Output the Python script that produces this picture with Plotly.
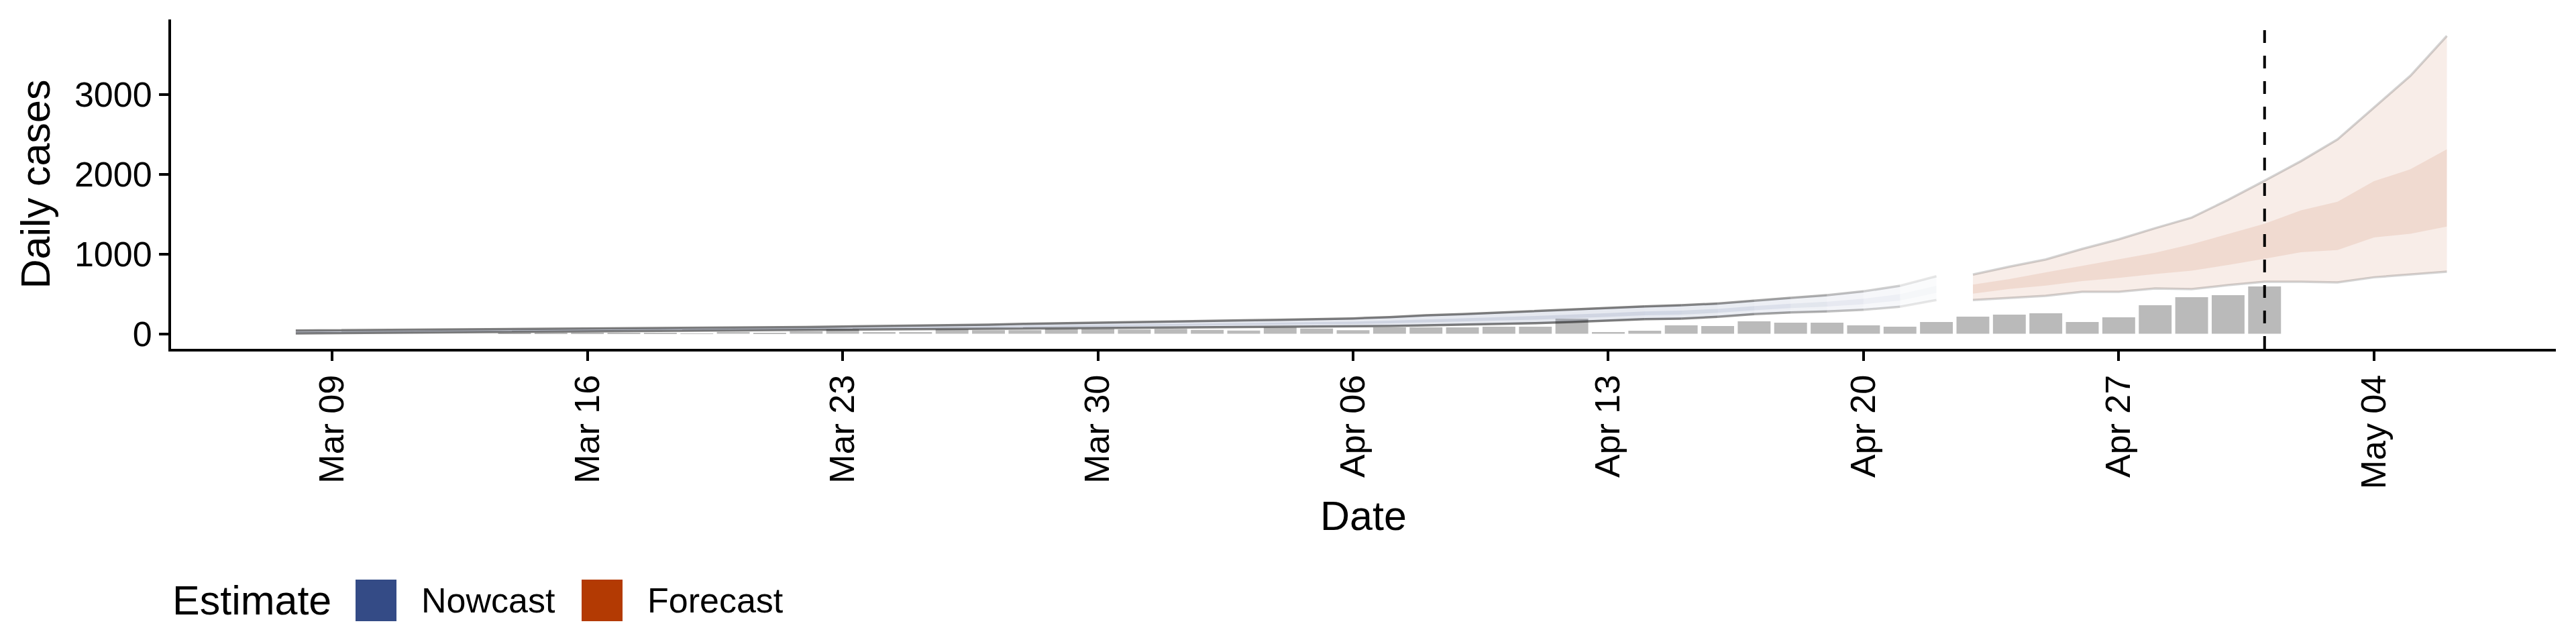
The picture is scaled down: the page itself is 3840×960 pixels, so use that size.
import pandas as pd
import plotly.graph_objects as go

# ---------------- data ----------------
case_dates = pd.date_range("2020-03-08", "2020-05-01", freq="D")
reported_cases = [0, 0, 0, 0, 0, 0,
                  7, 5, 15, 10, 13, 4, 24, 13, 32, 55,
                  21, 21, 55, 44, 44, 60, 60, 52, 60, 49,
                  40, 77, 66, 44, 80, 80, 80, 88, 88, 189,
                  21, 38, 105, 97, 155, 139, 139, 105, 88, 147,
                  214, 239, 256, 147, 206, 357, 458, 483, 592]

nowcast_dates = pd.date_range("2020-03-08", "2020-04-22", freq="D")
nowcast_upper_90 = [40, 43, 45, 48, 50, 53, 55, 58, 60, 63,
                    67, 71, 76, 80, 85, 90, 95, 100, 105, 114,
                    124, 132, 141, 150, 158, 164, 168, 174, 182, 192,
                    209, 231, 245, 265, 281, 298, 321, 343, 357, 379,
                    413, 449, 483, 531, 601, 721]
nowcast_upper_50 = [26, 29, 31, 34, 37, 40, 42, 45, 48, 51,
                    54, 58, 62, 66, 70, 74, 78, 82, 87, 93,
                    100, 106, 112, 119, 126, 131, 135, 140, 145, 152,
                    164, 181, 192, 209, 222, 238, 259, 279, 290, 312,
                    346, 376, 401, 439, 496, 601]
nowcast_lower_50 = [16, 19, 21, 24, 27, 30, 33, 36, 38, 41,
                    45, 48, 52, 55, 58, 62, 66, 69, 73, 77,
                    81, 86, 91, 96, 101, 106, 111, 114, 118, 121,
                    131, 143, 153, 166, 177, 192, 213, 231, 239, 262,
                    295, 322, 340, 370, 417, 512]
nowcast_lower_90 = [5, 8, 11, 14, 17, 20, 23, 26, 29, 32,
                    35, 38, 41, 44, 47, 50, 53, 56, 59, 61,
                    63, 66, 69, 73, 77, 81, 86, 88, 90, 91,
                    97, 105, 113, 124, 133, 147, 166, 183, 189, 212,
                    245, 267, 279, 301, 338, 422]

forecast_dates = pd.date_range("2020-04-23", "2020-05-06", freq="D")
forecast_upper_90 = [741, 840, 931, 1063, 1183, 1323, 1455, 1678, 1917, 2163, 2434, 2835, 3232, 3731]
forecast_upper_50 = [615, 685, 769, 853, 931, 1015, 1121, 1253, 1379, 1547, 1653, 1911, 2060, 2312]
forecast_lower_50 = [502, 561, 603, 659, 699, 749, 791, 861, 939, 1021, 1048, 1205, 1253, 1342]
forecast_lower_90 = [422, 449, 475, 525, 525, 567, 559, 609, 651, 651, 643, 707, 741, 777]

estimate_date = "2020-05-01"
tick_dates = ["2020-03-09", "2020-03-16", "2020-03-23", "2020-03-30", "2020-04-06",
              "2020-04-13", "2020-04-20", "2020-04-27", "2020-05-04"]
tick_labels = ["Mar 09", "Mar 16", "Mar 23", "Mar 30", "Apr 06",
               "Apr 13", "Apr 20", "Apr 27", "May 04"]
y_ticks = [0, 1000, 2000, 3000]
legend_labels = ["Nowcast", "Forecast"]

# ---------------- styles ----------------
FONT = "Liberation Sans, Arial, Helvetica, sans-serif"
NOW_RGB = (52, 75, 134)
FC_RGB = (179, 58, 3)
NOW_HEX = "#344b86"
FC_HEX = "#b33a03"
BAR_COL = "#bababa"
fade_start = 37          # index in nowcast arrays where fading begins
fade_scale = [0.98, 0.93, 0.84, 0.72, 0.63, 0.49, 0.37, 0.19]

W, H = 3840, 960
L, R, T, B = 255, 30, 29, 440


def px_x(px):
    return (px - L) / (W - L - R)


def px_y(py):
    return (H - B - py) / (H - T - B)


def rgba(rgb, a):
    return "rgba(%d,%d,%d,%.3f)" % (rgb[0], rgb[1], rgb[2], a)


fig = go.Figure()

fig.add_trace(go.Bar(x=case_dates, y=reported_cases, marker=dict(color=BAR_COL, line=dict(width=0)),
                     width=0.9 * 86400000, showlegend=False, hoverinfo="skip"))


def ribbon(xs, lo, hi, color):
    xs = list(xs)
    fig.add_trace(go.Scatter(x=xs + xs[::-1], y=list(hi) + list(lo)[::-1], fill="toself",
                             fillcolor=color, line=dict(width=0), mode="lines",
                             showlegend=False, hoverinfo="skip"))


def edge(xs, ys, color, width=3.5):
    fig.add_trace(go.Scatter(x=list(xs), y=list(ys), mode="lines",
                             line=dict(color=color, width=width),
                             showlegend=False, hoverinfo="skip"))


def nowcast_piece(i0, i1, f):
    xs = nowcast_dates[i0:i1 + 1]
    ribbon(xs, nowcast_lower_90[i0:i1 + 1], nowcast_upper_90[i0:i1 + 1], rgba(NOW_RGB, 0.12 * f))
    ribbon(xs, nowcast_lower_50[i0:i1 + 1], nowcast_upper_50[i0:i1 + 1], rgba(NOW_RGB, 0.12 * f))
    edge(xs, nowcast_upper_90[i0:i1 + 1], "rgba(0,0,0,%.3f)" % (0.5 * f))
    edge(xs, nowcast_lower_90[i0:i1 + 1], "rgba(0,0,0,%.3f)" % (0.5 * f))


# nowcast: constant part then fading day-by-day segments
nowcast_piece(0, fade_start, 1.0)
for k, f in enumerate(fade_scale):
    i = fade_start + k
    nowcast_piece(i, i + 1, f)

# forecast
ribbon(forecast_dates, forecast_lower_90, forecast_upper_90, rgba(FC_RGB, 0.09))
ribbon(forecast_dates, forecast_lower_50, forecast_upper_50, rgba(FC_RGB, 0.10))
edge(forecast_dates, forecast_upper_90, "rgba(0,0,0,0.17)")
edge(forecast_dates, forecast_lower_90, "rgba(0,0,0,0.17)")

shapes = [
    dict(type="line", xref="x", yref="paper", x0=estimate_date, x1=estimate_date, y0=0, y1=1,
         line=dict(color="black", width=4, dash="19px,19px"), layer="above"),
    dict(type="rect", xref="paper", yref="paper", x0=px_x(530), x1=px_x(591),
         y0=px_y(926), y1=px_y(864), fillcolor=NOW_HEX, line=dict(width=0)),
    dict(type="rect", xref="paper", yref="paper", x0=px_x(867), x1=px_x(928),
         y0=px_y(926), y1=px_y(864), fillcolor=FC_HEX, line=dict(width=0)),
]

annotations = [
    dict(text="Estimate", xref="paper", yref="paper", x=px_x(255), y=px_y(895),
         xanchor="left", yanchor="middle", showarrow=False, font=dict(size=61, color="black", family=FONT)),
    dict(text=legend_labels[0], xref="paper", yref="paper", x=px_x(626), y=px_y(895),
         xanchor="left", yanchor="middle", showarrow=False, font=dict(size=52, color="black", family=FONT)),
    dict(text=legend_labels[1], xref="paper", yref="paper", x=px_x(963), y=px_y(895),
         xanchor="left", yanchor="middle", showarrow=False, font=dict(size=52, color="black", family=FONT)),
]

fig.update_layout(
    width=W, height=H, autosize=False,
    margin=dict(l=L, r=R, t=T, b=B, pad=0),
    paper_bgcolor="white", plot_bgcolor="white",
    font=dict(family=FONT, color="black", size=52),
    showlegend=False, barmode="overlay",
    shapes=shapes, annotations=annotations,
    xaxis=dict(type="date", range=["2020-03-04 13:55", "2020-05-08 23:45"],
               showline=True, linecolor="black", linewidth=4, mirror=False,
               ticks="outside", ticklen=14, tickwidth=4, tickcolor="black",
               tickmode="array", tickvals=tick_dates, ticktext=tick_labels, tickangle=-90,
               tickfont=dict(size=52, color="black", family=FONT),
               showgrid=False, zeroline=False,
               title=dict(text="Date", font=dict(size=61, color="black", family=FONT), standoff=20)),
    yaxis=dict(range=[-189, 3937], showline=True, linecolor="black", linewidth=4,
               ticks="outside", ticklen=14, tickwidth=4, tickcolor="black",
               tickmode="array", tickvals=y_ticks,
               tickfont=dict(size=52, color="black", family=FONT),
               showgrid=False, zeroline=False,
               title=dict(text="Daily cases", font=dict(size=61, color="black", family=FONT), standoff=18)),
)

fig.write_html("out.html", config={"displayModeBar": False},
               post_script="document.body.style.margin='0px';")
